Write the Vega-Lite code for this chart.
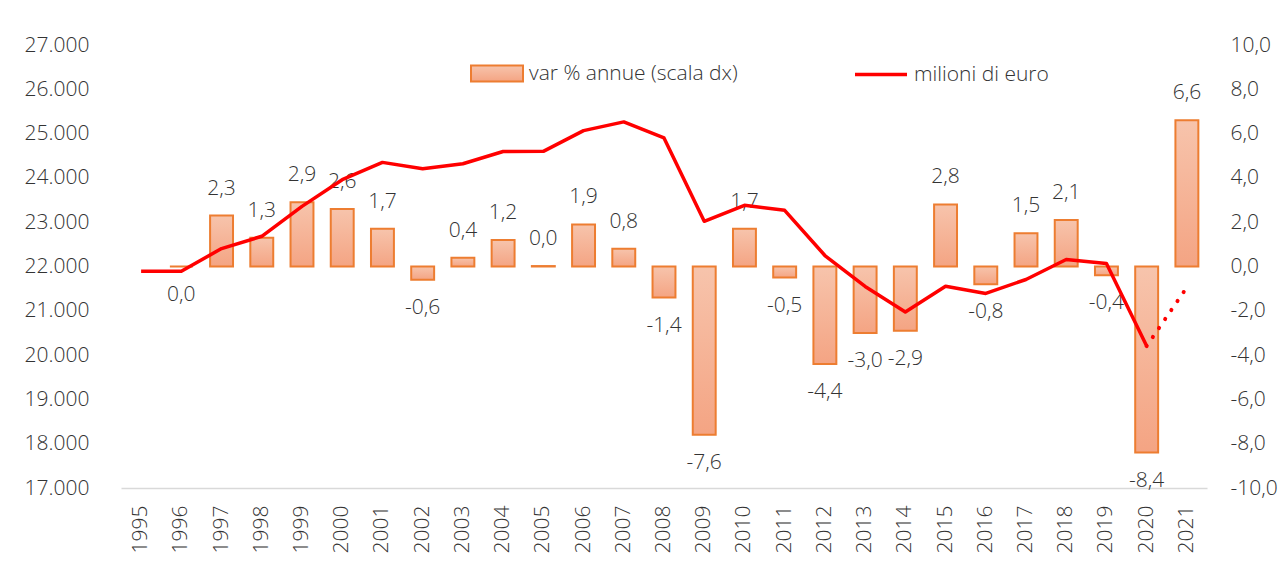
{
  "$schema": "https://vega.github.io/schema/vega-lite/v6.json",
  "width": 1086,
  "height": 443,
  "autosize": {"type": "none"},
  "padding": {"left": 121, "top": 45, "right": 78, "bottom": 84},
  "background": "white",
  "config": {
    "view": {"stroke": null},
    "font": "Open Sans",
    "axis": {"labelFontWeight": 300},
    "legend": {"labelFontWeight": 300},
    "locale": {"number": {"decimal": ",", "thousands": ".", "grouping": [3], "currency": ["", " €"], "minus": "-"}}
  },
  "data": {
    "values": [
      {"year": 1995, "val": 21895},
      {"year": 1996, "var": 0, "val": 21895},
      {"year": 1997, "var": 2.3, "val": 22405},
      {"year": 1998, "var": 1.3, "val": 22682},
      {"year": 1999, "var": 2.9, "val": 23358},
      {"year": 2000, "var": 2.6, "val": 23960},
      {"year": 2001, "var": 1.7, "val": 24350},
      {"year": 2002, "var": -0.6, "val": 24207},
      {"year": 2003, "var": 0.4, "val": 24320},
      {"year": 2004, "var": 1.2, "val": 24597},
      {"year": 2005, "var": 0.02, "val": 24600},
      {"year": 2006, "var": 1.9, "val": 25068},
      {"year": 2007, "var": 0.8, "val": 25264},
      {"year": 2008, "var": -1.4, "val": 24903},
      {"year": 2009, "var": -7.6, "val": 23020},
      {"year": 2010, "var": 1.7, "val": 23381},
      {"year": 2011, "var": -0.5, "val": 23268},
      {"year": 2012, "var": -4.4, "val": 22248},
      {"year": 2013, "var": -3.0, "val": 21550},
      {"year": 2014, "var": -2.9, "val": 20971},
      {"year": 2015, "var": 2.8, "val": 21556},
      {"year": 2016, "var": -0.8, "val": 21392},
      {"year": 2017, "var": 1.5, "val": 21707},
      {"year": 2018, "var": 2.1, "val": 22158},
      {"year": 2019, "var": -0.4, "val": 22068},
      {"year": 2020, "var": -8.4, "val": 20205},
      {"year": 2021, "var": 6.6, "val": 21530}
    ]
  },
  "encoding": {
    "x": {
      "field": "year",
      "type": "ordinal",
      "scale": {"paddingInner": 0.43, "paddingOuter": 0.215},
      "axis": {
        "title": null,
        "labelAngle": 270,
        "labelAlign": "right",
        "labelBaseline": "middle",
        "labelPadding": 17,
        "labelFontSize": 21,
        "labelColor": "#333333",
        "ticks": false,
        "domainColor": "#D9D9D9",
        "domainWidth": 1.5,
        "grid": false
      }
    }
  },
  "layer": [
    {
      "encoding": {
        "y": {
          "field": "var",
          "type": "quantitative",
          "scale": {"domain": [-10, 10], "nice": false, "zero": false},
          "axis": {
            "orient": "right",
            "title": null,
            "values": [-10, -8, -6, -4, -2, 0, 2, 4, 6, 8, 10],
            "format": ".1f",
            "grid": false,
            "domain": false,
            "ticks": false,
            "labelPadding": 23,
            "labelFontSize": 21,
            "labelColor": "#333333"
          }
        }
      },
      "layer": [
        {
          "transform": [{"filter": "isValid(datum.var)"}],
          "mark": {
            "type": "bar",
            "strokeWidth": 2,
            "fill": {
              "gradient": "linear",
              "x1": 0, "y1": 0, "x2": 0, "y2": 1,
              "stops": [
                {"offset": 0, "color": "#F7C4AC"},
                {"offset": 1, "color": "#F4A483"}
              ]
            }
          },
          "encoding": {
            "stroke": {
              "datum": "var % annue (scala dx)",
              "type": "nominal",
              "scale": {"range": ["#ED7D31"]},
              "legend": {
                "orient": "none",
                "legendX": 349,
                "legendY": 1.5,
                "title": null,
                "padding": 0,
                "symbolType": "M-1,-0.31H1V0.31H-1Z",
                "symbolSize": 2704,
                "symbolFillColor": "#F5B396",
                "symbolStrokeWidth": 2,
                "labelFontSize": 21,
                "labelColor": "#333333",
                "labelOffset": 5,
                "labelLimit": 500
              }
            }
          }
        },
        {
          "transform": [{"filter": "isValid(datum.var) && datum.var > 0"}],
          "mark": {"type": "text", "dy": -27, "fontSize": 21, "fontWeight": 300, "color": "#333333", "baseline": "middle"},
          "encoding": {"text": {"field": "var", "type": "quantitative", "format": ".1f"}}
        },
        {
          "transform": [{"filter": "isValid(datum.var) && datum.var <= 0"}],
          "mark": {"type": "text", "dy": 28, "fontSize": 21, "fontWeight": 300, "color": "#333333", "baseline": "middle"},
          "encoding": {"text": {"field": "var", "type": "quantitative", "format": ".1f"}}
        }
      ]
    },
    {
      "encoding": {
        "y": {
          "field": "val",
          "type": "quantitative",
          "scale": {"domain": [17000, 27000], "nice": false, "zero": false},
          "axis": {
            "orient": "left",
            "title": null,
            "values": [17000, 18000, 19000, 20000, 21000, 22000, 23000, 24000, 25000, 26000, 27000],
            "format": ",.0f",
            "grid": false,
            "domain": false,
            "ticks": false,
            "labelPadding": 32,
            "labelFontSize": 21,
            "labelColor": "#333333"
          }
        }
      },
      "layer": [
        {
          "transform": [{"filter": "datum.year <= 2020"}],
          "mark": {"type": "line", "strokeWidth": 3.5, "strokeJoin": "round"},
          "encoding": {
            "color": {
              "datum": "milioni di euro",
              "type": "nominal",
              "scale": {"range": ["#FF0000"]},
              "legend": {
                "orient": "none",
                "legendX": 732,
                "legendY": 1.5,
                "title": null,
                "padding": 0,
                "symbolType": "stroke",
                "symbolSize": 2704,
                "symbolStrokeWidth": 3.5,
                "labelFontSize": 21,
                "labelColor": "#333333",
                "labelOffset": 5,
                "labelLimit": 500
              }
            }
          }
        },
        {
          "transform": [{"filter": "datum.year >= 2020"}],
          "mark": {"type": "line", "strokeWidth": 4, "strokeDash": [0.1, 10.8], "strokeCap": "round"},
          "encoding": {"color": {"value": "#FF0000"}}
        }
      ]
    }
  ],
  "resolve": {"scale": {"y": "independent", "stroke": "independent", "color": "independent"}}
}
